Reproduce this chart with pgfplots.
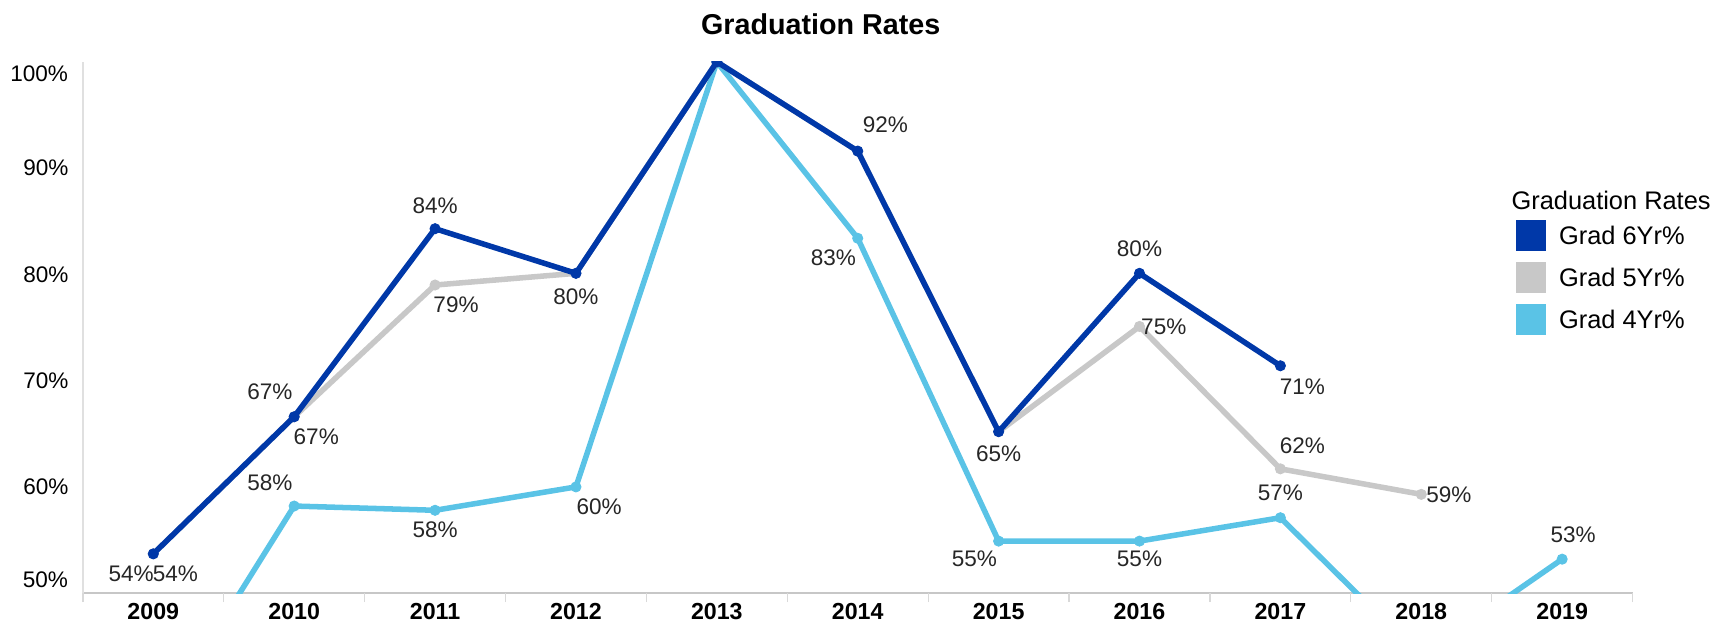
\documentclass[border=0pt]{standalone}
\usepackage{fontspec}
\setmainfont{Liberation Sans}
\usepackage{pgfplots}
\usepackage{pgfplotstable}
\pgfplotsset{compat=1.18}
\definecolor{c6}{RGB}{0,56,168}
\definecolor{c5}{RGB}{200,200,200}
\definecolor{c4}{RGB}{90,195,230}

\pgfplotstableread{
x y
0 53.7
1 66.6
2 84.3
3 80.1
4 100
5 91.6
6 65.2
7 80.1
8 71.4
}\sixyr
\pgfplotstableread{
x y
0 53.7
1 66.6
2 79.0
3 80.1
4 100
5 91.6
6 65.2
7 75.1
8 61.7
9 59.3
}\fiveyr
\pgfplotstableread{
x y
0 37
1 58.2
2 57.8
3 60.0
4 100
5 83.4
6 54.9
7 54.9
8 57.1
9 44
10 53.2
}\fouryr

\pgfplotstableread{
x y lbl dx dy
0 53.7 54 -20 -18
1 66.6 67 -22 23
2 84.3 84 0 21
5 91.6 92 25 24
7 80.1 80 0 22
8 71.4 71 20 -19
}\sixlbl
\pgfplotstableread{
x y lbl dx dy
0 53.7 54 20 -18
1 66.6 67 20 -18
2 79.0 79 19 -18
3 80.1 80 0 -21
6 65.2 65 0 -20
7 75.1 75 22 0
8 61.7 62 20 21
9 59.3 59 25 0
}\fivelbl
\pgfplotstableread{
x y lbl dx dy
1 58.2 58 -22 21
2 57.8 58 0 -18
3 60.0 60 21 -18
5 83.4 83 -22 -18
6 54.9 55 -22 -16
7 54.9 55 0 -16
8 57.1 57 0 23
10 53.2 53 10 22
}\fourlbl

\pgfplotsset{
  lblplot/.style={forget plot, draw=none, mark=none,
    point meta=explicit symbolic,
    nodes near coords={\pgfplotspointmeta\%},
    visualization depends on={\thisrow{dx}\as\labdx},
    visualization depends on={\thisrow{dy}\as\labdy},
    every node near coord/.append style={anchor=center, inner sep=0pt,
      xshift=\labdx*0.5pt, yshift=\labdy*0.5pt,
      font=\fontsize{10.2}{12}\selectfont, text=black!85}},
  serie/.style={#1, line width=2.5pt, mark=*, mark size=2.3pt,
    mark options={solid, line width=0.4pt, fill=#1}},
}

\begin{document}
\begin{tikzpicture}
\useasboundingbox (-37.5pt,-16pt) rectangle (746.5pt,268.5pt);
\begin{axis}[
  at={(0,0)}, anchor=south west, scale only axis,
  width=701.5pt, height=240.5pt,
  xmin=-0.5, xmax=10.5, ymin=50, ymax=100,
  axis x line*=bottom, axis y line*=left,
  x axis line style={draw=black!22, line width=0.8pt},
  y axis line style={draw=black!12, line width=0.8pt},
  xtick={0,...,10},
  xticklabels={2009,2010,2011,2012,2013,2014,2015,2016,2017,2018,2019},
  major tick length=0pt,
  xtick style={draw=black!15, line width=0.6pt},
  extra x ticks={-0.5,0.5,1.5,2.5,3.5,4.5,5.5,6.5,7.5,8.5,9.5,10.5},
  extra x tick labels={},
  extra x tick style={major tick length=4pt, tick align=outside},
  ytick={60,70,80,90},
  yticklabels={60\%,70\%,80\%,90\%},
  ytick style={draw=none},
  xticklabel style={font=\bfseries\fontsize{10.5}{12}\selectfont, yshift=-1pt},
  yticklabel style={font=\fontsize{10.2}{12}\selectfont, xshift=-3pt},
  clip mode=individual, clip marker paths=true,
]
\addplot[serie=c4] table {\fouryr};
\addplot[serie=c5] table {\fiveyr};
\addplot[serie=c6] table {\sixyr};
\addplot[lblplot] table[meta=lbl] {\fourlbl};
\addplot[lblplot] table[meta=lbl] {\fivelbl};
\addplot[lblplot] table[meta=lbl] {\sixlbl};
\node[anchor=east, inner sep=0pt, xshift=-6.5pt, yshift=6pt, font=\fontsize{10.2}{12}\selectfont] at (axis cs:-0.5,50) {50\%};
\node[anchor=east, inner sep=0pt, xshift=-6.5pt, yshift=-5.5pt, font=\fontsize{10.2}{12}\selectfont] at (axis cs:-0.5,100) {100\%};
\end{axis}
\node[font=\bfseries\fontsize{13}{15}\selectfont] at (334pt,257.5pt) {Graduation Rates};
\node[anchor=west, inner sep=0pt, font=\fontsize{11.5}{13}\selectfont] at (646.5pt,178pt) {Graduation Rates};
\fill[c6] (648.5pt,155pt) rectangle (662.5pt,169pt);
\node[anchor=west, inner sep=0pt, font=\fontsize{11.5}{13}\selectfont] at (668pt,162pt) {Grad 6Yr\%};
\fill[c5] (648.5pt,136pt) rectangle (662.5pt,150pt);
\node[anchor=west, inner sep=0pt, font=\fontsize{11.5}{13}\selectfont] at (668pt,143pt) {Grad 5Yr\%};
\fill[c4] (648.5pt,117pt) rectangle (662.5pt,131pt);
\node[anchor=west, inner sep=0pt, font=\fontsize{11.5}{13}\selectfont] at (668pt,124pt) {Grad 4Yr\%};
\end{tikzpicture}
\end{document}
